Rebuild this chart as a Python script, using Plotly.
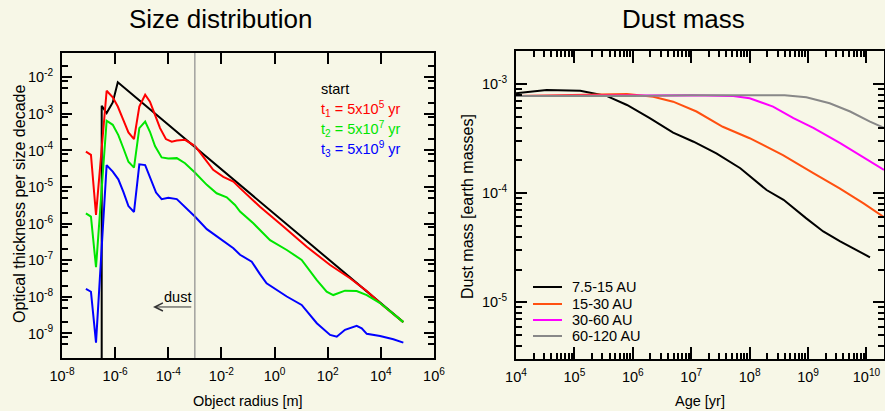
import numpy as np
import plotly.graph_objects as go

W, H = 885, 411
BG = "#F7F7E7"

# ---------------- data: size distribution (log10 values) ----------
start_logr = [-6.506, -6.506, -6.32, -6.09, -5.90, 4.846]
start_logt = [-12.0, -2.78, -2.98, -2.69, -2.14, -8.69]

t1_logr = [-7.10, -6.91, -6.72, -6.32, -6.09, -5.90, -5.69, -5.50, -5.29, -5.09, -4.87, -4.69,
           -4.50, -4.31, -4.09, -3.87, -3.68, -3.37, -2.99, -2.68, -2.31, -1.93, -1.55, -1.30,
           -0.55, 0.33, 1.21, 2.09, 2.84, 3.47, 4.09, 4.846]
t1_logt = [-4.03, -4.12, -5.76, -2.37, -2.55, -2.80, -3.17, -3.51, -3.69, -2.80, -2.48, -2.67,
           -3.03, -3.39, -3.69, -3.76, -3.73, -3.71, -3.88, -4.17, -4.53, -4.72, -4.85, -5.03,
           -5.54, -6.08, -6.63, -7.13, -7.49, -7.84, -8.24, -8.69]

t2_logr = [-7.10, -6.91, -6.72, -6.32, -6.09, -5.88, -5.69, -5.50, -5.29, -5.09, -4.87, -4.69,
           -4.50, -4.25, -4.00, -3.68, -3.37, -2.99, -2.55, -2.18, -1.80, -1.49, -1.30, -0.80,
           -0.17, 0.46, 1.02, 1.59, 1.96, 2.21, 2.65, 3.09, 3.47, 3.97, 4.846]
t2_logt = [-5.72, -5.81, -7.19, -3.19, -3.30, -3.58, -3.94, -4.31, -4.47, -3.39, -3.21, -3.49,
           -3.88, -4.19, -4.22, -4.21, -4.35, -4.61, -4.94, -5.17, -5.28, -5.49, -5.67, -5.99,
           -6.45, -6.72, -6.99, -7.54, -7.86, -7.95, -7.83, -7.84, -7.95, -8.17, -8.69]

t3_logr = [-7.10, -6.91, -6.72, -6.32, -6.09, -5.88, -5.69, -5.50, -5.29, -5.09, -4.87, -4.69,
           -4.46, -4.25, -4.00, -3.68, -3.37, -2.99, -2.55, -2.05, -1.55, -1.30, -0.86, -0.55,
           -0.30, 0.46, 1.02, 1.59, 2.09, 2.34, 2.65, 3.09, 3.28, 3.47, 3.97, 4.47, 4.846]
t3_logt = [-7.78, -7.86, -9.25, -4.40, -4.58, -4.79, -5.13, -5.52, -5.68, -4.38, -4.40, -4.72,
           -5.15, -5.33, -5.29, -5.33, -5.54, -5.81, -6.15, -6.40, -6.67, -6.85, -7.04, -7.38,
           -7.63, -7.99, -8.22, -8.72, -9.04, -9.09, -8.90, -8.79, -8.86, -9.01, -9.07, -9.16, -9.25]

dust_limit = 1e-3

size_names = ["start", "t<sub>1</sub> = 5x10<sup>5</sup> yr",
              "t<sub>2</sub> = 5x10<sup>7</sup> yr", "t<sub>3</sub> = 5x10<sup>9</sup> yr"]
size_colors = ["#000000", "#FF0000", "#00E600", "#0000FF"]

# ---------------- data: dust mass ----------------
age_a = [4.0, 4.525, 5.10, 5.55, 5.90, 6.29, 6.69, 7.04, 7.43, 7.84, 8.29, 8.58, 8.97, 9.26, 9.55, 10.06]
mass_a = [-3.083, -3.052, -3.059, -3.107, -3.19, -3.31, -3.444, -3.527, -3.633, -3.77, -3.97,
          -4.06, -4.23, -4.35, -4.44, -4.587]
age_b = [4.0, 5.0, 5.90, 6.35, 6.69, 7.09, 7.54, 8.0, 8.57, 9.09, 9.54, 9.95, 10.3]
mass_b = [-3.107, -3.10, -3.089, -3.114, -3.16, -3.25, -3.39, -3.495, -3.649, -3.816, -3.954,
          -4.092, -4.22]
age_c = [4.0, 6.0, 7.0, 7.72, 8.0, 8.40, 8.75, 9.09, 9.55, 10.3]
mass_c = [-3.107, -3.10, -3.10, -3.107, -3.128, -3.205, -3.31, -3.40, -3.54, -3.786]
age_d = [4.0, 6.0, 7.0, 8.0, 8.6, 8.97, 9.37, 9.72, 10.06, 10.3]
mass_d = [-3.107, -3.107, -3.10, -3.098, -3.10, -3.12, -3.174, -3.25, -3.343, -3.40]

mass_names = ["7.5-15 AU", "15-30 AU", "30-60 AU", "60-120 AU"]
mass_colors = ["#000000", "#FF5010", "#FF00FF", "#888888"]

left_xticks = [-8, -6, -4, -2, 0, 2, 4, 6]
left_yticks = [-9, -8, -7, -6, -5, -4, -3, -2]
right_xticks = [4, 5, 6, 7, 8, 9, 10]
right_yticks = [-5, -4, -3]

# ---------------- layout helpers (pixel -> paper) ----------------
def fx(px):
    return px / W

def fy(py):
    return 1 - py / H

L_DOM_X = [fx(62), fx(434)]
L_DOM_Y = [fy(358), fy(52.7)]
R_DOM_X = [fx(516), fx(884)]
R_DOM_Y = [fy(358.7), fy(51)]

fig = go.Figure()

tk = lambda e: "10<sup>%d</sup>" % e
p10 = lambda a: list(np.power(10.0, np.array(a, dtype=float)))

size_series = [(start_logr, start_logt), (t1_logr, t1_logt), (t2_logr, t2_logt), (t3_logr, t3_logt)]
for (lr, lt), c, n in zip(size_series, size_colors, size_names):
    fig.add_trace(go.Scatter(x=p10(lr), y=p10(lt), mode="lines", line=dict(color=c, width=2),
                             name=n, showlegend=False, xaxis="x", yaxis="y"))

fig.add_trace(go.Scatter(x=[dust_limit, dust_limit], y=[1e-12, 1.0], mode="lines",
                         line=dict(color="#8C8C8C", width=1.2), showlegend=False,
                         xaxis="x", yaxis="y"))

mass_series = [(age_a, mass_a), (age_b, mass_b), (age_c, mass_c), (age_d, mass_d)]
for (ag, ms), c, n in zip(mass_series, mass_colors, mass_names):
    fig.add_trace(go.Scatter(x=p10(ag), y=p10(ms), mode="lines", line=dict(color=c, width=2),
                             name=n, showlegend=False, xaxis="x2", yaxis="y2"))

font_tick = dict(family="Liberation Sans, Arial, sans-serif", size=14.5, color="black")

axis_common = dict(type="log", showline=True, linewidth=2, linecolor="black", mirror="allticks",
                   ticks="inside", tickcolor="black", tickwidth=1.5, showgrid=False,
                   zeroline=False, tickfont=font_tick, ticklabelstandoff=4, automargin=False)

left_ymin = []
for e in range(-10, -1):
    for m in (2, 5, 8):
        left_ymin.append(m * 10.0 ** e)

def minor_vals(lo, hi):
    out = []
    for e in range(lo, hi + 1):
        for m in range(2, 10):
            out.append(m * 10.0 ** e)
    return out

fig.update_layout(
    template="none",
    width=W, height=H, margin=dict(l=0, r=0, t=0, b=0, autoexpand=False),
    paper_bgcolor=BG, plot_bgcolor=BG, showlegend=False,
    xaxis=dict(axis_common, domain=L_DOM_X, range=[-8, 6], anchor="y",
               tickvals=p10(left_xticks), ticktext=[tk(e) for e in left_xticks], ticklen=11),
    yaxis=dict(axis_common, domain=L_DOM_Y, range=[-9.67, -1.33], anchor="x",
               tickvals=p10(left_yticks), ticktext=[tk(e) for e in left_yticks], ticklen=10,
               minor=dict(tickvals=left_ymin, ticks="inside", ticklen=6, tickcolor="black",
                          tickwidth=1.5)),
    xaxis2=dict(axis_common, domain=R_DOM_X, range=[4, 10.3], anchor="y2",
                tickvals=p10(right_xticks), ticktext=[tk(e) for e in right_xticks], ticklen=12,
                minor=dict(tickvals=minor_vals(4, 10), ticks="inside", ticklen=6,
                           tickcolor="black", tickwidth=1.5)),
    yaxis2=dict(axis_common, domain=R_DOM_Y, range=[-5.517, -2.695], anchor="x2",
                tickvals=p10(right_yticks), ticktext=[tk(e) for e in right_yticks], ticklen=11,
                minor=dict(tickvals=minor_vals(-6, -3), ticks="inside", ticklen=6,
                           tickcolor="black", tickwidth=1.5)),
)

ann = []
title_font = dict(family="Liberation Sans, Arial, sans-serif", size=26, color="black")
ann.append(dict(text="Size distribution", x=fx(221), y=fy(19), xref="paper", yref="paper",
                showarrow=False, font=title_font, xanchor="center", yanchor="middle"))
ann.append(dict(text="Dust mass", x=fx(683), y=fy(19), xref="paper", yref="paper",
                showarrow=False, font=title_font, xanchor="center", yanchor="middle"))

lab_font = dict(family="Liberation Sans, Arial, sans-serif", size=14.5, color="black")
rot_font = dict(family="Liberation Sans, Arial, sans-serif", size=16, color="black")
ann.append(dict(text="Object radius [m]", x=fx(248), y=fy(401), xref="paper", yref="paper",
                showarrow=False, font=lab_font, xanchor="center", yanchor="middle"))
ann.append(dict(text="Age [yr]", x=fx(700), y=fy(401), xref="paper", yref="paper",
                showarrow=False, font=lab_font, xanchor="center", yanchor="middle"))
ann.append(dict(text="Optical thickness per size decade", x=fx(19), y=fy(204), xref="paper",
                yref="paper", showarrow=False, font=rot_font, textangle=-90,
                xanchor="center", yanchor="middle"))
ann.append(dict(text="Dust mass [earth masses]", x=fx(467), y=fy(207), xref="paper",
                yref="paper", showarrow=False, font=rot_font, textangle=-90,
                xanchor="center", yanchor="middle"))

# left legend (coloured text)
leg_y = [89, 109, 129, 149]
for n, c, py in zip(size_names, size_colors, leg_y):
    ann.append(dict(text=n, x=fx(319), y=fy(py), xref="paper", yref="paper", showarrow=False,
                    font=dict(family="Liberation Sans, Arial, sans-serif", size=14.5, color=c),
                    xanchor="left", yanchor="middle"))

# dust arrow
ann.append(dict(text="dust", x=np.log10(dust_limit), y=-8.0, xref="x", yref="y",
                showarrow=False, xanchor="right", yanchor="middle", xshift=-2,
                font=lab_font))
ann.append(dict(text="", x=-4.575, y=-8.276, ax=np.log10(dust_limit) - 0.08, ay=-8.276,
                xref="x", yref="y", axref="x", ayref="y", showarrow=True, arrowhead=5,
                arrowsize=1.6, arrowwidth=1, arrowcolor="#333333"))

# right legend
leg2_y = [287, 304, 320, 336]
for n, c, py in zip(mass_names, mass_colors, leg2_y):
    ann.append(dict(text=n, x=fx(570), y=fy(py), xref="paper", yref="paper", showarrow=False,
                    font=lab_font, xanchor="left", yanchor="middle"))

shapes = []
for c, py in zip(mass_colors, leg2_y):
    shapes.append(dict(type="line", xref="paper", yref="paper", x0=fx(533), x1=fx(562),
                       y0=fy(py), y1=fy(py), line=dict(color=c, width=2)))

fig.update_layout(annotations=ann, shapes=shapes)
fig.write_html("out.html", config={"displayModeBar": False},
               post_script="document.body.style.margin='0';document.body.style.overflow='hidden';")
